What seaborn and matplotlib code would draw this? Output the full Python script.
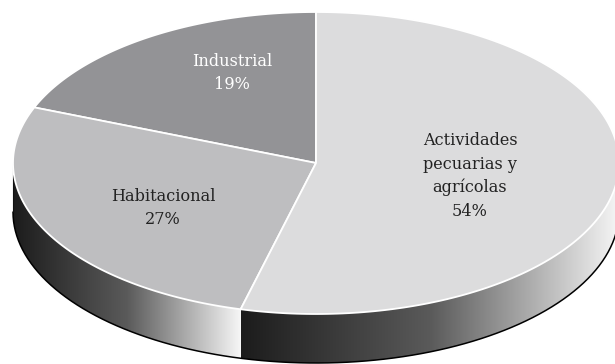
import numpy as np
import matplotlib
matplotlib.use("Agg")
import matplotlib.pyplot as plt
from matplotlib.patches import Polygon
from matplotlib.colors import LinearSegmentedColormap
import seaborn as sns

# Land-use shares (percent)
labels = ["Industrial", "Habitacional", "Actividades\npecuarias y\nagrícolas"]
shares = [19, 27, 54]
top_colors = ["#939396", "#bebec0", "#dcdcdd"]
text_colors = ["#ffffff", "#222222", "#222222"]

sns.set_theme(style="white")
plt.rcParams["font.family"] = ["DejaVu Serif"]

fig = plt.figure(figsize=(6.15, 3.64), dpi=100)
ax = fig.add_axes([0, 0, 1, 1])
ax.set_xlim(-316, 299)
ax.set_ylim(-201, 163)
ax.axis("off")

# disc geometry (ellipse radii and thickness)
RX, RY, DEPTH = 303, 151, 49
side_cmap = LinearSegmentedColormap.from_list("side", ["#1c1c1c", "#5a5a5a", "#f6f6f6"])

# slice angle ranges, counter-clockwise from the top
bounds = []
start = 90.0
for s in shares:
    end = start + 360.0 * s / 100.0
    bounds.append((start, end))
    start = end


def rim(t0, t1, n=200):
    t = np.radians(np.linspace(t0, t1, n))
    return RX * np.cos(t), RY * np.sin(t)


# visible side walls (front half of the disc)
for (a0, a1) in bounds:
    segs = []
    for off in (0, 360):
        lo, hi = max(a0, 180 + off), min(a1, 360 + off)
        if hi > lo:
            segs.append((lo, hi))
    for lo, hi in segs:
        x, y = rim(lo, hi)
        pts = np.column_stack([np.r_[x, x[::-1]], np.r_[y, (y - DEPTH)[::-1]]])
        poly = Polygon(pts, closed=True, facecolor="none", edgecolor="none")
        ax.add_patch(poly)
        grad = np.linspace(0, 1, 256).reshape(1, -1)
        im = ax.imshow(grad, cmap=side_cmap, aspect="auto",
                       extent=[x.min(), x.max(), (y - DEPTH).min(), y.max()],
                       origin="lower", zorder=1, interpolation="bilinear")
        im.set_clip_path(poly)

# dark outline along the bottom of the wall
xb, yb = rim(180, 360)
ax.plot(xb, yb - DEPTH, color="#000000", lw=1.1, zorder=2)
ax.plot([-RX, -RX], [0, -DEPTH], color="#111111", lw=0.8, zorder=2)

# top faces
for (a0, a1), col in zip(bounds, top_colors):
    x, y = rim(a0, a1)
    pts = np.column_stack([np.r_[0, x], np.r_[0, y]])
    ax.add_patch(Polygon(pts, closed=True, facecolor=col, edgecolor="#ffffff",
                         lw=1.3, joinstyle="miter", zorder=3))

# slice labels
label_xy = [(-84, 90), (-153, -45), (154, -13)]
for lab, s, (lx, ly), tc in zip(labels, shares, label_xy, text_colors):
    ax.text(lx, ly, f"{lab}\n{s}%", ha="center", va="center", color=tc,
            fontsize=11.6, linespacing=1.47, zorder=4)

fig.savefig("out.png", dpi=100)
